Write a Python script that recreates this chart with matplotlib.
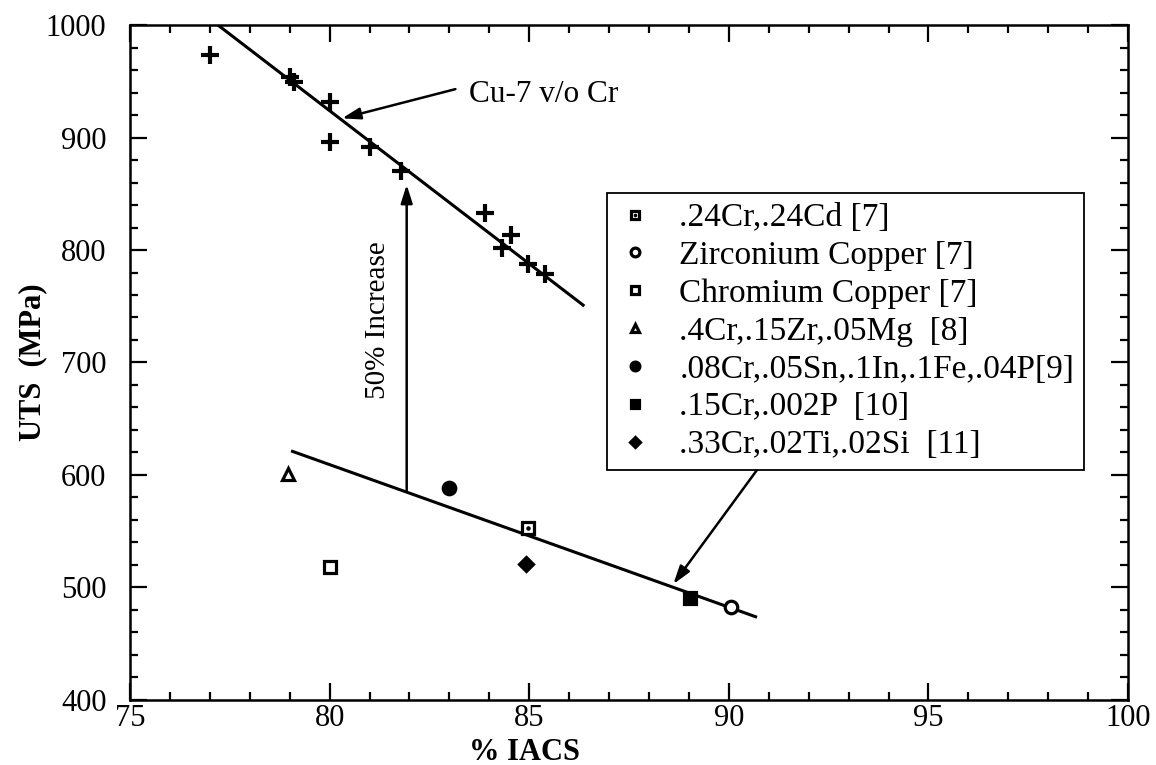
import matplotlib.pyplot as plt
from matplotlib.ticker import MultipleLocator

plt.rcParams['font.family'] = ['Liberation Serif', 'DejaVu Serif']

# Cu-7 v/o Cr data (% IACS, UTS MPa)
cu_cr_iacs = [77.0, 79.0, 79.1, 80.0, 80.0, 81.0, 81.8, 83.9, 84.55, 84.33, 84.96, 85.4]
cu_cr_uts = [973, 954, 949, 932, 896, 892, 870, 833, 813, 802, 788, 779]
cu_cr_fit_x = [77.2, 86.35]
cu_cr_fit_y = [1000, 751]

# conventional alloys from literature
alloy_labels = ['.24Cr,.24Cd [7]', 'Zirconium Copper [7]', 'Chromium Copper [7]',
                '.4Cr,.15Zr,.05Mg  [8]', '.08Cr,.05Sn,.1In,.1Fe,.04P[9]',
                '.15Cr,.002P  [10]', '.33Cr,.02Ti,.02Si  [11]']
alloy_iacs = [84.96, 90.05, 80.0, 78.96, 83.0, 89.02, 84.92]
alloy_uts = [552.6, 482.4, 518, 601, 588, 490.4, 520.6]
alloy_fit_x = [79.07, 90.67]
alloy_fit_y = [621, 474]

fig = plt.figure(figsize=(11.56, 7.65), dpi=100)
ax = fig.add_axes([0.1125, 0.085, 0.8633, 0.8823])

ax.plot(cu_cr_iacs, cu_cr_uts, linestyle='none', marker='+', markersize=13,
        markeredgewidth=3, color='black')
ax.plot(cu_cr_fit_x, cu_cr_fit_y, color='black', linewidth=2.2)
ax.plot(alloy_fit_x, alloy_fit_y, color='black', linewidth=2.2)

ms = 9
mew = 2.3
styles = [
    dict(marker='s', mfc='white'),
    dict(marker='o', mfc='white'),
    dict(marker='s', mfc='white'),
    dict(marker='^', mfc='white'),
    dict(marker='o', mfc='black'),
    dict(marker='s', mfc='black'),
    dict(marker='D', mfc='black'),
]
handles = []
for i, st in enumerate(styles):
    h, = ax.plot([alloy_iacs[i]], [alloy_uts[i]], linestyle='none', marker=st['marker'],
                 markersize=ms if st['marker'] != 'D' else 7.5,
                 markerfacecolor=st['mfc'], markeredgecolor='black', markeredgewidth=mew)
    if i == 0:
        dot, = ax.plot([alloy_iacs[i]], [alloy_uts[i]], linestyle='none', marker='o',
                       markersize=2.2, color='black')
        handles.append((h, dot))
    else:
        handles.append(h)

leg = ax.legend(handles, alloy_labels, loc='upper left', bbox_to_anchor=(0.4777, 0.7516),
                borderaxespad=0, fontsize=24, markerscale=0.7, numpoints=1,
                handlelength=1.08, handletextpad=0.8, borderpad=0.3, labelspacing=0.22,
                fancybox=False, framealpha=1, edgecolor='black')
leg.get_frame().set_linewidth(1.3)

arrow_kw = dict(arrowstyle='-|>,head_length=1.1,head_width=0.35', color='black', lw=1.8,
                shrinkA=0, shrinkB=0)
ax.annotate('', xy=(80.31, 917), xytext=(83.15, 943), arrowprops=arrow_kw)
ax.text(83.5, 938, 'Cu-7 v/o Cr', fontsize=22.5, va='center', ha='left')

ax.annotate('', xy=(81.93, 858), xytext=(81.93, 585), arrowprops=arrow_kw)
ax.text(81.22, 738, '50% Increase', fontsize=21, rotation=90, va='center', ha='center')

ax.annotate('', xy=(88.61, 503), xytext=(90.82, 610), arrowprops=arrow_kw)

ax.set_xlim(75, 100)
ax.set_ylim(400, 1000)
ax.xaxis.set_major_locator(MultipleLocator(5))
ax.xaxis.set_minor_locator(MultipleLocator(1))
ax.yaxis.set_major_locator(MultipleLocator(100))
ax.yaxis.set_minor_locator(MultipleLocator(20))
ax.tick_params(which='both', direction='in', top=True, right=True, width=1.6,
               labelsize=22, color='black')
ax.tick_params(which='major', length=12)
ax.tick_params(which='minor', length=6)
ax.tick_params(axis='y', pad=17)
ax.tick_params(axis='x', pad=3)
for sp in ax.spines.values():
    sp.set_linewidth(1.8)

ax.set_xlabel('% IACS', fontsize=22, fontweight='bold')
ax.xaxis.set_label_coords(0.395, -0.056)
ax.set_ylabel('UTS  (MPa)', fontsize=22, fontweight='bold')
ax.yaxis.set_label_coords(-0.083, 0.5)

fig.savefig('out.png', dpi=100)
